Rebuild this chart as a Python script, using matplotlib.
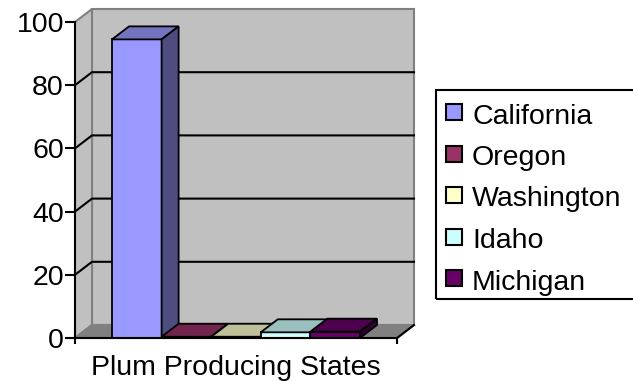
import matplotlib.pyplot as plt
from matplotlib.patches import Polygon, Rectangle
from matplotlib.transforms import IdentityTransform
import numpy as np

plt.rcParams['font.family'] = ['Liberation Sans', 'DejaVu Sans']

# data
category = 'Plum Producing States'
states = ['California', 'Oregon', 'Washington', 'Idaho', 'Michigan']
values = [94.5, 0.4, 0.4, 1.8, 2.0]
colors = ['#9999FF', '#993366', '#FFFFCC', '#CCFFFF', '#660066']
yticks = [0, 20, 40, 60, 80, 100]

W, H = 633, 382
fig = plt.figure(figsize=(W / 100, H / 100), dpi=100)
ax = fig.add_axes([75 / W, 44 / H, 322 / W, 316 / H])
ax.set_xlim(0, 1)
ax.set_ylim(0, 100)
ax.patch.set_visible(False)

DX, DY = 17, 13  # depth of the 3d effect, pixels


def disp(x, y, back=False):
    px, py = ax.transData.transform((x, y))
    if back:
        px, py = px + DX, py + DY
    return (px, py)


def poly(pts, fc, ec='black', lw=1.3, z=1):
    ax.add_patch(Polygon(pts, closed=True, facecolor=fc, edgecolor=ec, lw=lw,
                         transform=IdentityTransform(), clip_on=False, zorder=z))


def line(pts, color='black', lw=1.5, z=1.5):
    pts = np.array(pts)
    ax.add_line(plt.Line2D(pts[:, 0], pts[:, 1], color=color, lw=lw,
                           transform=IdentityTransform(), clip_on=False, zorder=z))


def shade(c, f):
    r, g, b = plt.matplotlib.colors.to_rgb(c)
    return (r * f, g * f, b * f)


# walls and floor
top = yticks[-1]
poly([disp(0, 0, True), disp(1, 0, True), disp(1, top, True), disp(0, top, True)],
     '#C0C0C0', '#808080', 1.5, 0.5)
poly([disp(0, 0), disp(0, top), disp(0, top, True), disp(0, 0, True)],
     '#C0C0C0', '#808080', 1.5, 0.5)
poly([disp(0, 0), disp(1, 0), disp(1, 0, True), disp(0, 0, True)],
     '#808080', '#808080', 1.5, 0.6)
line([disp(1, 0), disp(1, 0, True)], 'black', 1.5, 0.7)

# gridlines
for y in yticks[1:-1]:
    line([disp(0, y), disp(0, y, True), disp(1, y, True)], 'black', 1.5, 0.8)

# bars
w = 0.154
for i, (v, c) in enumerate(zip(values, colors)):
    x0 = 0.5 + (i - 2.5) * w
    x1 = x0 + w
    poly([disp(x0, 0), disp(x1, 0), disp(x1, v), disp(x0, v)], c, z=2 + i)
    poly([disp(x0, v), disp(x1, v), disp(x1, v, True), disp(x0, v, True)],
         shade(c, 0.75), z=2 + i)
    poly([disp(x1, 0), disp(x1, 0, True), disp(x1, v, True), disp(x1, v)],
         shade(c, 0.5), z=2 + i)

# axes
for s in ['top', 'right']:
    ax.spines[s].set_visible(False)
for s in ['left', 'bottom']:
    ax.spines[s].set_linewidth(1.5)
    ax.spines[s].set_zorder(10)
ax.set_yticks(yticks)
ax.tick_params(axis='y', direction='out', length=7, width=1.5, labelsize=20.5, pad=1)
ax.set_xticks([0.5], [category])
ax.set_xticks([0, 1], minor=True)
ax.tick_params(axis='x', which='major', length=0, labelsize=20.5, pad=12)
ax.tick_params(axis='x', which='minor', direction='out', length=4, width=1.5)

# legend
fx = lambda px: px / W
fy = lambda py: 1 - py / H
fig.add_artist(Rectangle((fx(436), fy(299)), fx(700) - fx(436), fy(90) - fy(299),
                         transform=fig.transFigure, fill=False, lw=1.5,
                         edgecolor='black'))
for i, (s, c) in enumerate(zip(states, colors)):
    yc = 112 + 41.5 * i
    fig.add_artist(Rectangle((fx(446), fy(yc + 8)), fx(462) - fx(446), fy(yc - 8) - fy(yc + 8),
                             transform=fig.transFigure, facecolor=c,
                             edgecolor='black', lw=1.5))
    fig.text(fx(472), fy(yc + 11.5), s, fontsize=20.5, va='baseline', ha='left')

fig.savefig('out.png', dpi=100)
